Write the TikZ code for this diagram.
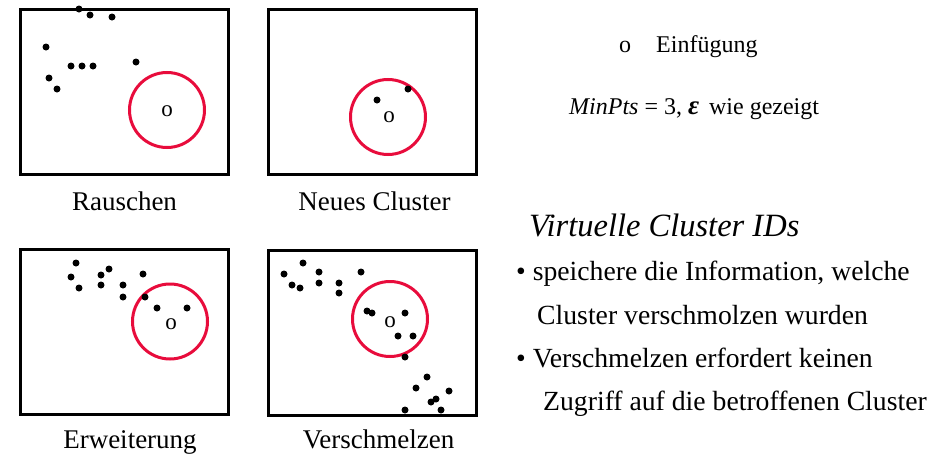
\documentclass[tikz,border=0pt]{standalone}
\usepackage{fontspec}
\setmainfont{Liberation Serif}
\definecolor{ringred}{RGB}{232,12,60}
\begin{document}
\begin{tikzpicture}[x=1pt,y=-1pt,
  panel/.style={draw=black, line width=3pt, inner sep=0pt, minimum width=208pt, minimum height=165pt},
  ring/.style={draw=ringred, line width=3pt, circle, minimum size=75pt, inner sep=0pt},
  ins/.style={font=\fontsize{23}{27}\selectfont, inner sep=0pt},
  caption/.style={anchor=base, inner sep=0pt, font=\fontsize{27}{32}\selectfont},
  txt/.style={anchor=base west, inner sep=0pt, font=\fontsize{27.7}{33}\selectfont},
  small/.style={anchor=base west, inner sep=0pt, font=\fontsize{24}{29}\selectfont},
  dot/.style={fill=black}
]
\useasboundingbox (0,0) rectangle (946,458);

% panels
\node[panel] (b1) at (124,91.5) {};
\node[panel] (b2) at (372,91.5) {};
\node[panel] (b3) at (124,332) {};
\node[panel] (b4) at (372.5,332.5) {};

% rings
\node[ring] (r1) at (167,110) {};
\node[ring] (r2) at (388,117) {};
\node[ring] (r3) at (170,321.5) {};
\node[ring] (r4) at (390,319) {};

% insertion marks
\node[ins] (o1) at (167,111) {o};
\node[ins] (o2) at (389,117) {o};
\node[ins] (o3) at (171,324) {o};
\node[ins] (o4) at (390,322) {o};

% points
\foreach \p in {(79,9),(90,15),(112,17),(46,47),(71,66),(82,66),(93,66),(136,62),(49,78),(57,89),
  (377,100),(408,89),
  (76,263),(71,277),(79,288),(101,275),(109,269),(101,285),(123,285),(123,297),(143,274),(145,297),(157,308),(187,308),
  (284,274),(303,263),(292,285),(300,288),(319,272),(319,283),(339,283),(339,293),(361,272),
  (367,311),(372,313),(405,313),(398,336),(413,336),(405,357),
  (427,377),(416,388),(449,391),(436,399),(431,402),(405,410),(441,410)}
  \fill[dot] \p circle[radius=3.5];

% captions
\node[caption] (c1) at (124.5,210) {Rauschen};
\node[caption] (c2) at (374.5,210) {Neues Cluster};
\node[caption] (c3) at (130,448) {Erweiterung};
\node[caption] (c4) at (378.5,448) {Verschmelzen};

% legend
\node[small] (lo) at (619,52) {o};
\node[small] (le) at (656,52) {Einfügung};
\node[small] (lm) at (569,114) {\textit{MinPts} = 3, {\fontsize{27}{29}\selectfont\textbf{\textit{ε}}}\, wie gezeigt};

% virtual cluster IDs
\node[anchor=base west, inner sep=0pt, font=\fontsize{32.5}{38}\selectfont\itshape] (vh) at (529,236) {Virtuelle Cluster IDs};
\node[txt] (v1) at (516,280) {• speichere die Information, welche};
\node[txt] (v2) at (537,324) {Cluster verschmolzen wurden};
\node[txt] (v3) at (516,367) {• Verschmelzen erfordert keinen};
\node[txt] (v4) at (543,410) {Zugriff auf die betroffenen Cluster};
\end{tikzpicture}
\end{document}
